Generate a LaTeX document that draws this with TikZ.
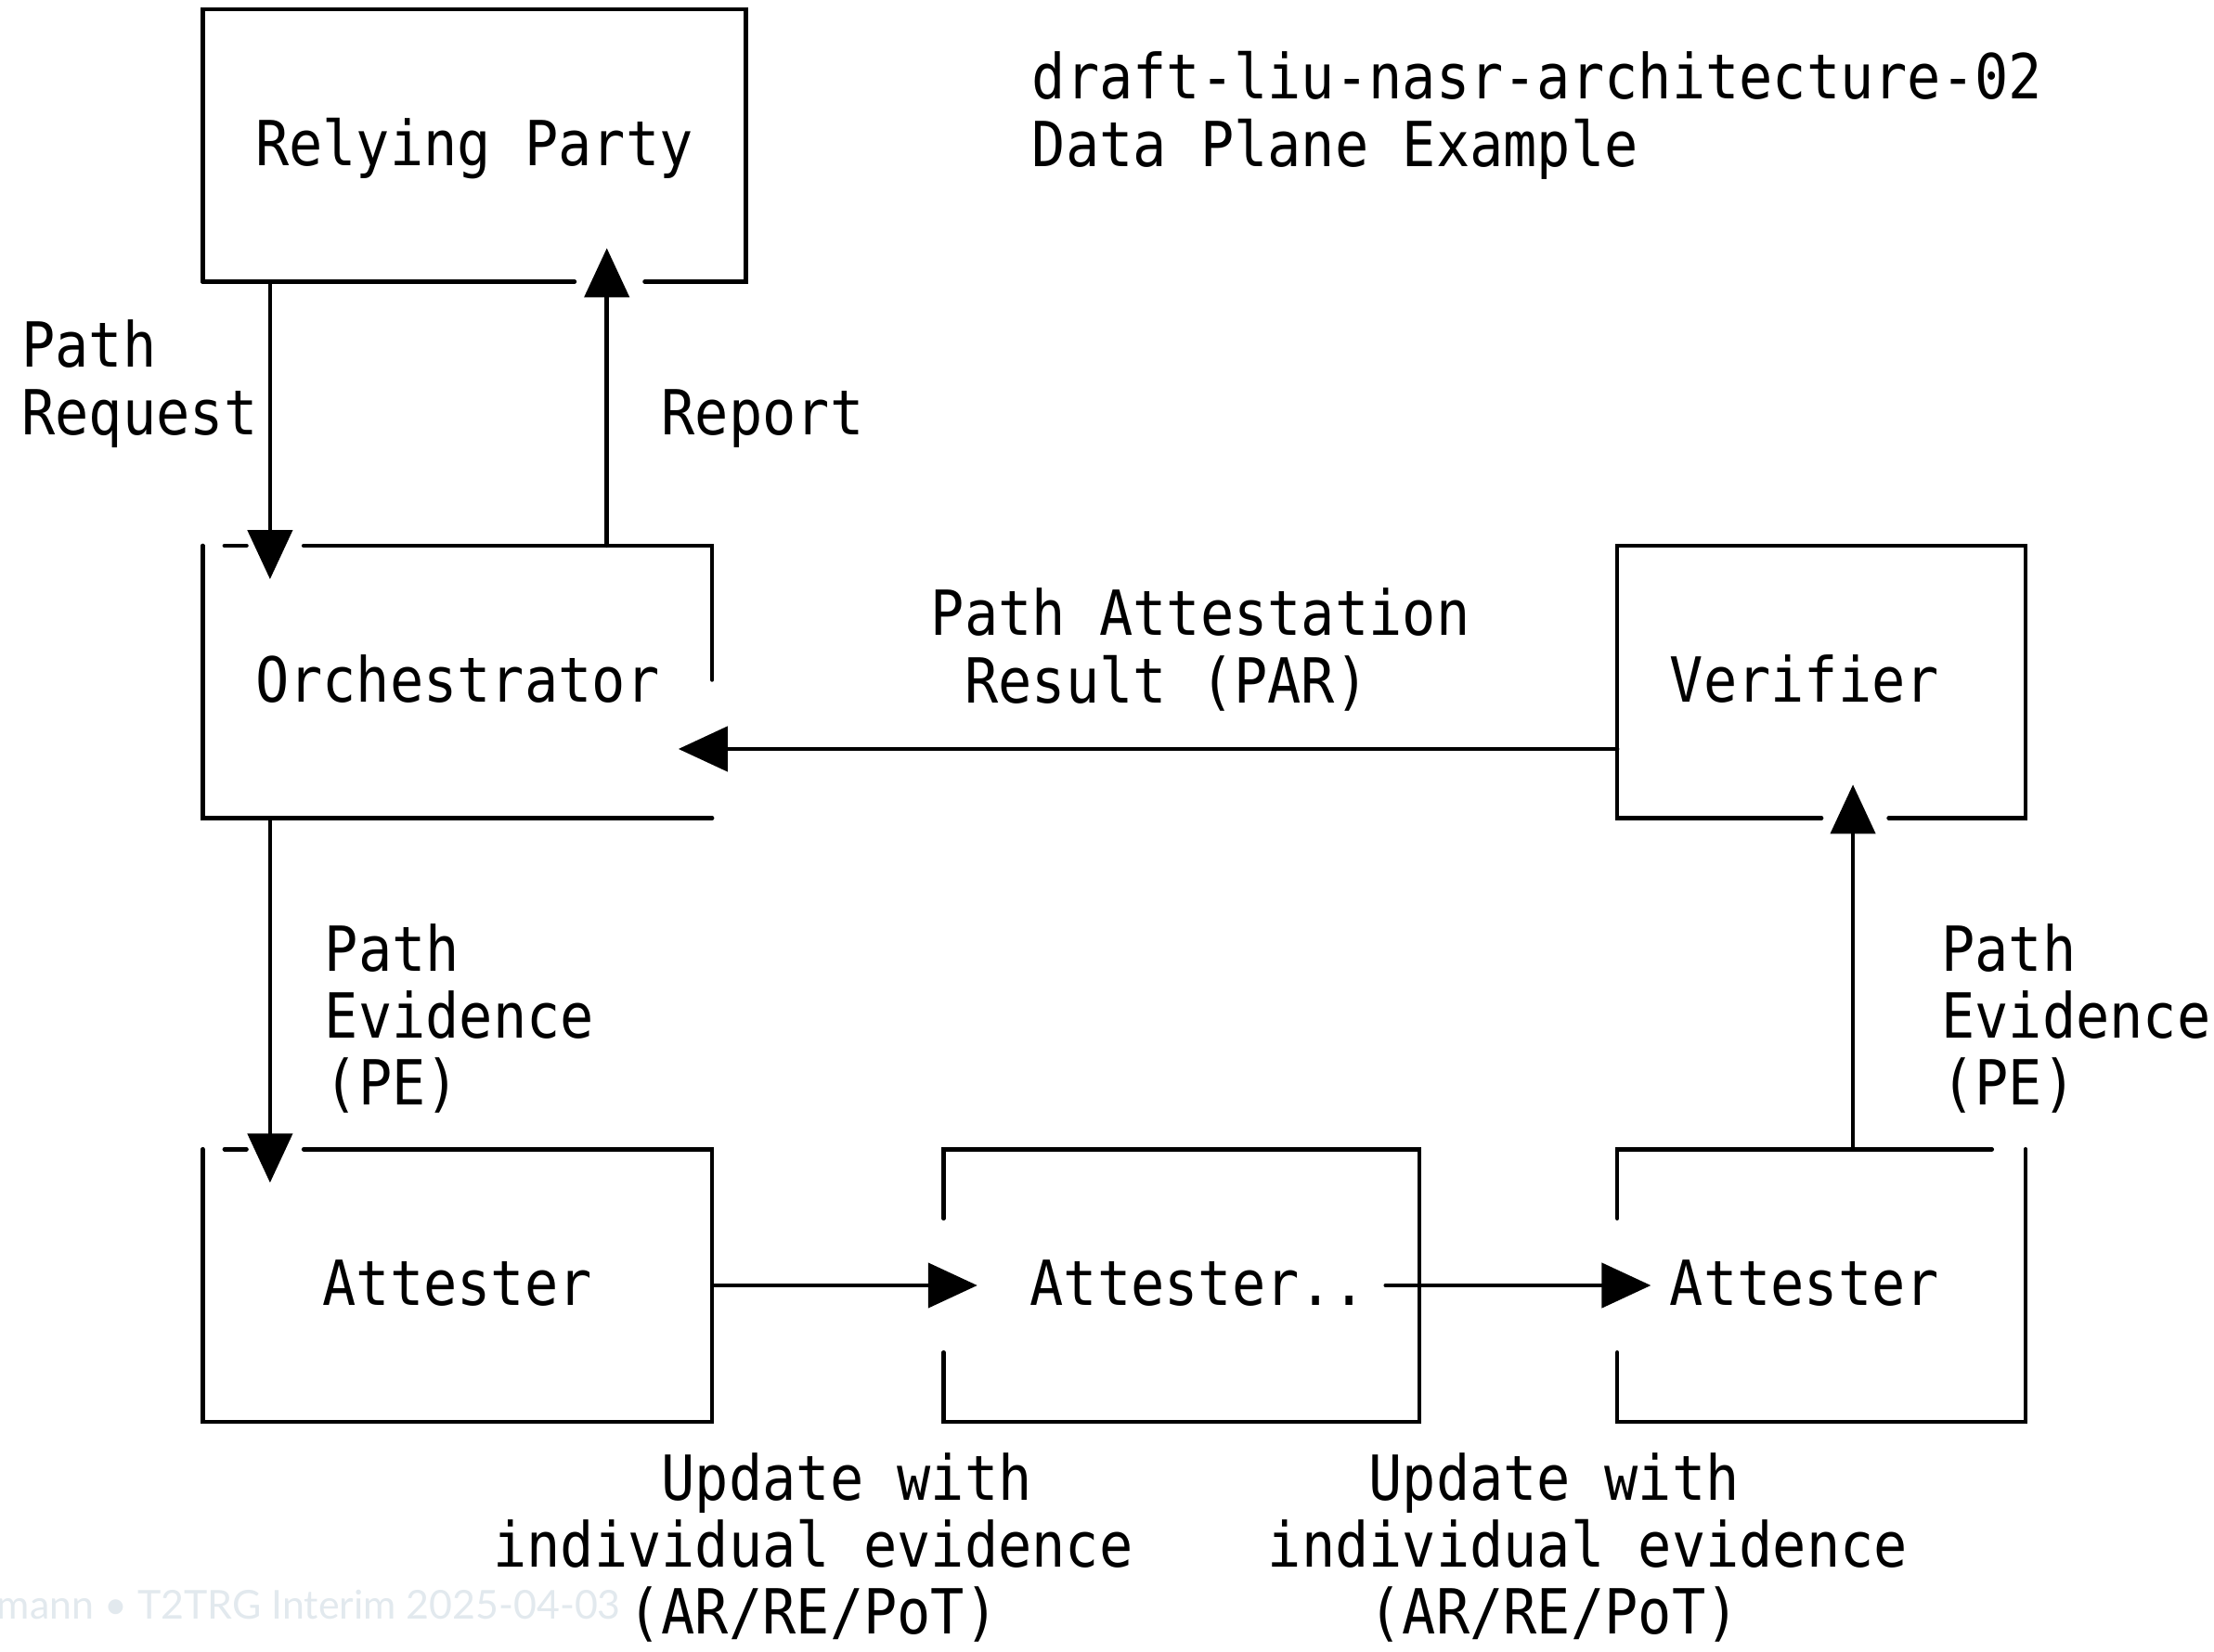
\documentclass[tikz,border=0pt]{standalone}
\usepackage{fontspec}
\usepackage{xcolor}
\usepackage{tikz}
\usetikzlibrary{arrows.meta}
\usetikzlibrary{calc}
\newfontfamily\asciifont[FakeStretch=0.9]{DejaVu Sans Mono}
\newfontfamily\slidefont{Lato}
\newcommand\asciitext{\asciifont\fontsize{19.05pt}{20.54pt}\selectfont}
\definecolor{slidegray}{HTML}{E2E9EE}
\tikzset{%
  asciibox/.style={
    rectangle,
    minimum width=#1*0.3628cm,
    minimum height=2.89cm,
    inner sep=0pt,
    text height=0.43cm,
    text depth=0pt,
    font=\asciitext
  },
  asciilabel/.style={
    anchor=base west,
    inner sep=0pt,
    align=left,
    font=\asciitext
  },
  flow/.style={-{Triangle[length=5.3mm,width=4.8mm]}},
}

\begin{document}
\begin{tikzpicture}[x=0.3628cm,y=-0.7225cm,line width=1.3pt,line cap=round]
  \useasboundingbox[fill=white] (-6.081,-0.169) rectangle (59.658,24.454);

  % footer of the slide
  \node (slide) [anchor=base east,inner sep=0pt,text=slidegray,
    font=\slidefont\fontsize{12.2pt}{14pt}\selectfont] at (12.41,23.98)
  {mann • T2TRG Interim 2025-04-03};

  \node (rp) [asciibox=16] at (8,2) {Relying Party};
  \node (orch) [asciibox=15] at (7.5,10) {Orchestrator};
  \node (ver) [asciibox=12] at (48,10) {Verifier\phantom{x}};
  \node (att1) [asciibox=15] at (7.5,19) {Attester};
  \node (att2) [asciibox=14] at (29,19) {\phantom{x}Attester..};
  \node (att3) [asciibox=12] at (48,19) {Attester\phantom{x}};

  % multi-line labels sit on their last line
  \node (title) [asciilabel] at (24.5,2.31)
  {draft-liu-nasr-architecture-02\\Data Plane Example};
  \node (lblreq) [asciilabel] at (-5.5,6.31) {Path\\Request};
  \node (lblrep) [asciilabel] at (13.5,6.31) {Report};
  \node (lblpar) [asciilabel] at (21.5,10.31)
  {Path Attestation\\~Result (PAR)};
  \node (lblpe1) [asciilabel] at (3.5,16.31) {Path\\Evidence\\(PE)};
  \node (lblpe2) [asciilabel] at (51.5,16.31) {Path\\Evidence\\(PE)};
  \node (lblupd1) [asciilabel] at (8.5,24.2)
  {~~~~~Update with\\individual evidence\\~~~~(AR/RE/PoT)};
  \node (lblupd2) [asciilabel] at (31.5,24.2)
  {~~~Update with\\individual evidence\\~~~(AR/RE/PoT)};

  % outlines, open where the arrows pass
  \draw (rp.south west) -- (rp.north west) -- (rp.north east)
    -- (rp.south east) -- ($(rp.south east)+(-3,0)$);
  \draw (rp.south west) -- ($(rp.south west)+(11.04,0)$);

  \draw ($(orch.north west)+(0.65,0)$) -- ($(orch.north west)+(1.3,0)$);
  \draw ($(orch.north west)+(3,0)$) -- (orch.north east)
    -- ($(orch.north east)+(0,2)$);
  \draw (orch.north west) -- (orch.south west) -- (orch.south east);

  \draw (ver.south) -- (ver.south west) -- (ver.north west)
    -- (ver.north east) -- (ver.south east) -- ($(ver.south)+(2,0)$);

  \draw ($(att1.north west)+(0.65,0)$) -- ($(att1.north west)+(1.3,0)$);
  \draw ($(att1.north west)+(3,0)$) -- (att1.north east)
    -- (att1.south east) -- (att1.south west) -- (att1.north west);

  \draw ($(att2.west)+(0,-1)$) -- (att2.north west) -- (att2.north east)
    -- (att2.south east) -- (att2.south west) -- ($(att2.west)+(0,1)$);

  \draw ($(att3.north east)+(-1,0)$) -- (att3.north west)
    -- ($(att3.west)+(0,-1)$);
  \draw ($(att3.west)+(0,1)$) -- (att3.south west) -- (att3.south east)
    -- (att3.north east);

  % arrows
  \draw [flow] ($(rp.south west)+(2,0)$) -- ($(orch.north west)+(2,0.5)$);
  \draw [flow] ($(orch.north west)+(12,0)$) -- ($(rp.south west)+(12,-0.5)$);
  \draw [flow] ($(ver.west)+(0,1)$) -- ($(orch.east)+(-1,1)$);
  \draw [flow] ($(orch.south west)+(2,0)$) -- ($(att1.north west)+(2,0.5)$);
  \draw [flow] (att1.east) -- ($(att2.west)+(1,0)$);
  \draw [flow] ($(att2.east)+(-1,0)$) -- ($(att3.west)+(1,0)$);
  \draw [flow] ($(att3.north west)+(7,0)$) -- ($(ver.south west)+(7,-0.5)$);
\end{tikzpicture}
\end{document}
